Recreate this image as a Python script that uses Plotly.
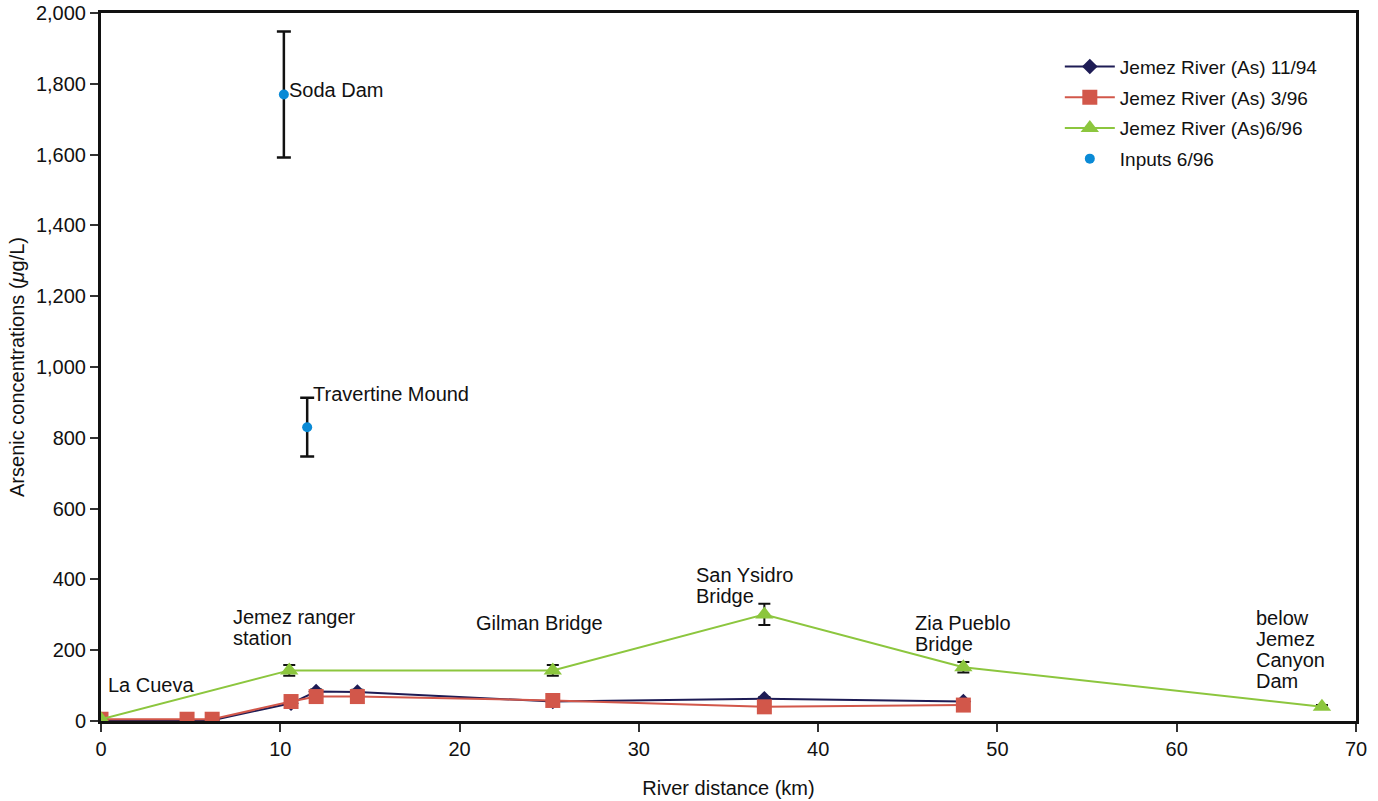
import plotly.graph_objects as go

# ---- data ----
x_1194 = [0, 4.8, 6.2, 10.6, 12.0, 14.3, 25.2, 37.0, 48.1]
y_1194 = [2, 2, 2, 50, 83, 82, 55, 63, 55]
e_1194 = [0, 0, 0, 0, 6, 6, 0, 5, 4]

x_396 = [0, 4.8, 6.2, 10.6, 12.0, 14.3, 25.2, 37.0, 48.1]
y_396 = [5, 5, 5, 55, 69, 69, 58, 40, 45]
e_396 = [0, 0, 0, 0, 5, 0, 0, 0, 0]

x_696 = [0, 10.5, 25.2, 37.0, 48.1, 68.1]
y_696 = [5, 143, 143, 301, 152, 40]
e_696 = [0, 15, 15, 30, 15, 5]

x_inputs = [10.2, 11.5]
y_inputs = [1770, 830]
e_inputs = [178, 83]

site_labels = ["Soda Dam", "Travertine Mound", "La Cueva", "Jemez ranger<br>station",
               "Gilman Bridge", "San Ysidro<br>Bridge", "Zia Pueblo<br>Bridge",
               "below<br>Jemez<br>Canyon<br>Dam"]
# position of the first line of each label (data units)
label_x = [10.4, 11.72, 0.3, 7.27, 20.8, 33.1, 45.3, 64.3]
label_y = [1782, 924, 102, 294, 277, 412, 277, 291]

x_ticks = [0, 10, 20, 30, 40, 50, 60, 70]
y_ticks = [0, 200, 400, 600, 800, 1000, 1200, 1400, 1600, 1800, 2000]

NAVY = "#1e1c55"
RED = "#d2574a"
GREEN = "#8cc63e"
BLUE = "#0a8ad6"
FONT = "Liberation Sans, Arial, sans-serif"
LINE_STEP = 59  # label line spacing, in y data units

fig = go.Figure()

def err(vals):
    return dict(type="data", array=vals, visible=True, color="#111111", thickness=2, width=6)

fig.add_trace(go.Scatter(x=x_1194, y=y_1194, mode="lines+markers", name="Jemez River (As) 11/94",
                         legendgroup="a",
                         line=dict(color=NAVY, width=2),
                         marker=dict(symbol="diamond", size=12, color=NAVY),
                         error_y=err(e_1194)))
fig.add_trace(go.Scatter(x=x_396, y=y_396, mode="lines+markers", name="Jemez River (As) 3/96",
                         legendgroup="b",
                         line=dict(color=RED, width=2),
                         marker=dict(symbol="square", size=15, color=RED),
                         error_y=err(e_396)))
fig.add_trace(go.Scatter(x=x_696, y=y_696, mode="lines+markers", name="Jemez River (As)6/96",
                         legendgroup="c",
                         line=dict(color=GREEN, width=2),
                         marker=dict(symbol="triangle-up", size=16, color=GREEN),
                         error_y=err(e_696)))
fig.add_trace(go.Scatter(x=x_inputs, y=y_inputs, mode="markers", name="Inputs 6/96",
                         legendgroup="d",
                         marker=dict(symbol="circle", size=10, color=BLUE),
                         error_y=dict(type="data", array=e_inputs, visible=True,
                                      color="#111111", thickness=2.5, width=7)))

for t, lx, ly in zip(site_labels, label_x, label_y):
    for i, part in enumerate(t.split("<br>")):
        fig.add_annotation(x=lx, y=ly - i * LINE_STEP, text=part, showarrow=False,
                           xanchor="left", yanchor="middle", align="left",
                           font=dict(family=FONT, size=20, color="#111111"))

fig.update_layout(
    width=1378, height=801,
    paper_bgcolor="white", plot_bgcolor="white",
    margin=dict(l=101, r=22, t=13, b=80),
    font=dict(family=FONT, size=20, color="#111111"),
    showlegend=True,
    legend=dict(x=0.764, y=0.951, xanchor="left", yanchor="top",
                font=dict(family=FONT, size=19, color="#111111"),
                bgcolor="rgba(0,0,0,0)", tracegroupgap=3, itemwidth=50),
)
fig.update_xaxes(range=[0, 70], tickvals=x_ticks, showgrid=False, zeroline=False, automargin=False,
                 showline=True, linecolor="#111111", linewidth=3, mirror=True,
                 ticks="outside", ticklen=8, tickcolor="#333333", tickwidth=1.5,
                 tickfont=dict(size=20),
                 title=dict(text="River distance (km)", font=dict(size=20), standoff=22))
fig.update_yaxes(range=[0, 2000], tickvals=y_ticks, tickformat=",", showgrid=False, zeroline=False,
                 automargin=False,
                 showline=True, linecolor="#111111", linewidth=3, mirror=True,
                 ticks="outside", ticklen=8, tickcolor="#333333", tickwidth=1.5,
                 tickfont=dict(size=20),
                 title=dict(text="Arsenic concentrations (<i>μ</i>g/L)", font=dict(size=20), standoff=6))

fig.write_html("out.html", config={"displayModeBar": False},
               post_script="document.body.style.margin='0';")
